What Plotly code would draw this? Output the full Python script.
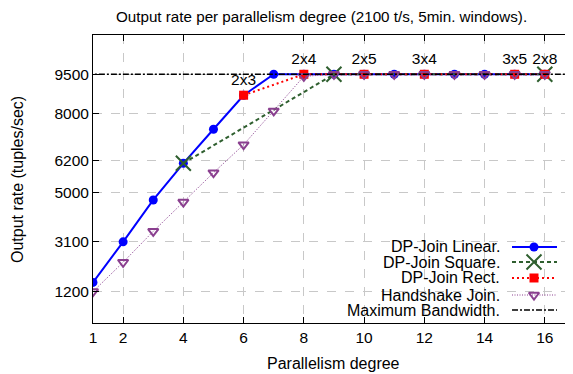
import plotly.graph_objects as go

# ---------------- data ----------------
x_linear = [1, 2, 3, 4, 5, 6, 7, 8, 9, 10, 11, 12, 13, 14, 15, 16]
y_linear = [1550, 3100, 4700, 6100, 7400, 8700, 9500, 9500, 9500, 9500, 9500, 9500, 9500, 9500, 9500, 9500]

x_square = [4, 9, 16]
y_square = [6100, 9500, 9500]

x_rect = [6, 8, 10, 12, 15, 16]
y_rect = [8700, 9500, 9500, 9500, 9500, 9500]
rect_labels = ["2x3", "2x4", "2x5", "3x4", "3x5", "2x8"]

x_hand = [1, 2, 3, 4, 5, 6, 7, 8, 9, 10, 11, 12, 13, 14, 15, 16]
y_hand = [1200, 2320, 3500, 4620, 5740, 6810, 8100, 9420, 9500, 9500, 9500, 9500, 9500, 9500, 9500, 9500]

max_bandwidth = 9500

x_ticks = [1, 2, 4, 6, 8, 10, 12, 14, 16]
y_ticks = [1200, 3100, 5000, 6200, 8000, 9500]

series_names = ["DP-Join Linear.", "DP-Join Square.", "DP-Join Rect.", "Handshake Join.", "Maximum Bandwidth."]

# ---------------- styles ----------------
FONT = "Liberation Sans, Arial, Helvetica, sans-serif"
BLUE = "#0000ff"
GREEN = "#2f5f2f"
RED = "#ff0000"
PURPLE = "#8a3f8f"

m_lin = dict(symbol="circle", size=9, color=BLUE)
m_sq = dict(symbol="x-thin-open", size=15, color=GREEN, line=dict(color=GREEN, width=2))
m_rect = dict(symbol="square", size=9, color=RED)
m_hand = dict(symbol="triangle-down-open", size=9, color=PURPLE, line=dict(color=PURPLE, width=2))

l_lin = dict(color=BLUE, width=2)
l_sq = dict(color=GREEN, width=2, dash="4px,3px")
l_rect = dict(color=RED, width=2, dash="2px,3px")
l_hand = dict(color=PURPLE, width=1, dash="1px,1.5px")
l_max = dict(color="#000000", width=1.5, dash="6px,2px,2px,2px")

fig = go.Figure()

fig.add_trace(go.Scatter(x=x_linear, y=y_linear, mode="lines+markers",
                         line=l_lin, marker=m_lin, showlegend=False))
fig.add_trace(go.Scatter(x=x_square, y=y_square, mode="lines+markers",
                         line=l_sq, marker=m_sq, showlegend=False))
fig.add_trace(go.Scatter(x=x_rect, y=y_rect, mode="lines+markers+text",
                         line=l_rect, marker=m_rect,
                         text=rect_labels, textposition="top center",
                         textfont=dict(family=FONT, size=15.5, color="#000000"),
                         cliponaxis=False, showlegend=False))
fig.add_trace(go.Scatter(x=x_hand, y=y_hand, mode="lines+markers",
                         line=l_hand, marker=m_hand, showlegend=False))
fig.add_trace(go.Scatter(x=[0, 18], y=[max_bandwidth, max_bandwidth], mode="lines",
                         line=l_max, showlegend=False))

# ---------------- custom legend (gnuplot style: text left, sample right) ----------------
leg_rows = [0.2639, 0.2118, 0.1563, 0.0972, 0.0451]
leg_x0, leg_x1, leg_xm, leg_tx = 0.8766, 0.9707, 0.9226, 0.8556
leg_styles = [(l_lin, m_lin), (l_sq, m_sq), (l_rect, m_rect), (l_hand, m_hand), (l_max, None)]
for name, yy, (ln, mk) in zip(series_names, leg_rows, leg_styles):
    fig.add_trace(go.Scatter(x=[leg_x0, leg_x1], y=[yy, yy], mode="lines", line=ln,
                             xaxis="x2", yaxis="y2", showlegend=False, hoverinfo="skip"))
    if mk is not None:
        fig.add_trace(go.Scatter(x=[leg_xm], y=[yy], mode="markers", marker=mk,
                                 xaxis="x2", yaxis="y2", showlegend=False, hoverinfo="skip"))
    fig.add_annotation(xref="paper", yref="paper", x=leg_tx, y=yy, text=name,
                       showarrow=False, xanchor="right", yanchor="middle",
                       font=dict(family=FONT, size=16, color="#000000"))

axis_common = dict(showline=True, linecolor="#000000", linewidth=1, mirror="ticks",
                   ticks="inside", ticklen=6, tickcolor="#000000",
                   showgrid=True, gridcolor="#c8c8c8", griddash="dash", gridwidth=1,
                   zeroline=False, tickfont=dict(family=FONT, size=15.5, color="#000000"))

# page body has an 8px default margin: shrink the figure so plot area lands where the reference has it
fig.update_layout(
    width=565, height=366,
    margin=dict(l=85, r=2, t=27, b=51),
    paper_bgcolor="#ffffff", plot_bgcolor="#ffffff",
    font=dict(family=FONT, size=15, color="#000000"),
    xaxis=dict(range=[1, 16.87], tickvals=x_ticks, ticktext=[str(v) for v in x_ticks], **axis_common),
    yaxis=dict(range=[0, 11000], tickvals=y_ticks, ticktext=[str(v) for v in y_ticks], **axis_common),
    xaxis2=dict(overlaying="x", range=[0, 1], visible=False, fixedrange=True),
    yaxis2=dict(overlaying="y", range=[0, 1], visible=False, fixedrange=True),
    showlegend=False,
)

fig.add_annotation(xref="paper", yref="paper", x=0.479, y=1.0, yshift=19,
                   text="Output rate per parallelism degree (2100 t/s, 5min. windows).",
                   showarrow=False, xanchor="center", yanchor="middle", font=dict(family=FONT, size=15.2))
fig.add_annotation(xref="paper", yref="paper", x=-0.159, y=0.5, text="Output rate (tuples/sec)",
                   textangle=-90, showarrow=False, xanchor="center", yanchor="middle",
                   font=dict(family=FONT, size=16))
fig.add_annotation(xref="paper", yref="paper", x=0.504, y=-0.139, text="Parallelism degree",
                   showarrow=False, xanchor="center", yanchor="middle", font=dict(family=FONT, size=16))

fig.write_html("out.html")
